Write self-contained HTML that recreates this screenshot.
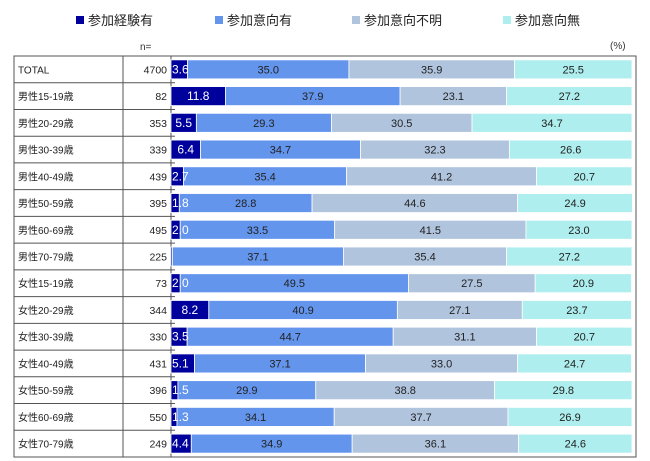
<!DOCTYPE html>
<html><head><meta charset="utf-8"><style>
body{margin:0;background:#fff;}
svg{display:block;font-family:"Liberation Sans","Noto Sans CJK JP",sans-serif;}
</style></head><body>
<svg id="c" width="650" height="461">
<g font-size="13" fill="#222">
<g><rect x="76" y="16" width="8" height="8" fill="#00009c"/><text x="88" y="25">参加経験有</text></g>
<g><rect x="215" y="16" width="8" height="8" fill="#6495ed"/><text x="227" y="25">参加意向有</text></g>
<g><rect x="352" y="16" width="8" height="8" fill="#b0c4de"/><text x="364" y="25">参加意向不明</text></g>
<g><rect x="503" y="16" width="8" height="8" fill="#afeeee"/><text x="515" y="25">参加意向無</text></g>
</g>
<text x="140" y="50" font-size="10" fill="#333">n=</text>
<text x="610" y="49" font-size="10" fill="#333">(%)</text>
<rect x="14" y="56" width="622" height="401" fill="none" stroke="#555" stroke-width="1"/>
<line x1="123" y1="56" x2="123" y2="457" stroke="#555"/>
<line x1="171" y1="56" x2="171" y2="457" stroke="#555"/>
<g id="rows"></g>
<g id="labels"></g>
</svg>
<script>
const categories=["TOTAL","男性15-19歳","男性20-29歳","男性30-39歳","男性40-49歳","男性50-59歳","男性60-69歳","男性70-79歳","女性15-19歳","女性20-29歳","女性30-39歳","女性40-49歳","女性50-59歳","女性60-69歳","女性70-79歳"];
const nValues=[4700,82,353,339,439,395,495,225,73,344,330,431,396,550,249];
const experienced=[3.6,11.8,5.5,6.4,2.7,1.8,2.0,0.3,2.0,8.2,3.5,5.1,1.5,1.3,4.4];
const intend=[35.0,37.9,29.3,34.7,35.4,28.8,33.5,37.1,49.5,40.9,44.7,37.1,29.9,34.1,34.9];
const unknown=[35.9,23.1,30.5,32.3,41.2,44.6,41.5,35.4,27.5,27.1,31.1,33.0,38.8,37.7,36.1];
const noIntent=[25.5,27.2,34.7,26.6,20.7,24.9,23.0,27.2,20.9,23.7,20.7,24.7,29.8,26.9,24.6];
const showLabel=[true,true,true,true,true,true,true,false,true,true,true,true,true,true,true];
const series=[{d:experienced,c:"#00009c",t:"#fff",n:"experienced"},{d:intend,c:"#6495ed",t:"#222",n:"intend"},{d:unknown,c:"#b0c4de",t:"#222",n:"unknown"},{d:noIntent,c:"#afeeee",t:"#222",n:"no-intent"}];
const X0=171,X1=632,topY=56,rowH=401/15,barH=19;
const xs=v=>X0+(X1-X0)*v/100;
const ys=i=>topY+rowH*i;
const NS="http://www.w3.org/2000/svg";
const g=document.getElementById("rows");
const gl=document.getElementById("labels");
function mk(tag,attrs){const e=document.createElementNS(NS,tag);for(const k in attrs)e.setAttribute(k,attrs[k]);return e;}
categories.forEach((cat,i)=>{
  const cy=ys(i)+rowH/2;
  if(i>0){const l=mk("line",{x1:14,x2:171,y1:ys(i),y2:ys(i),stroke:"#555"});
    
    g.appendChild(l);}
  const t=mk("text",{x:18,y:cy+4,"font-size":10,fill:"#222"});t.textContent=cat;
  
  g.appendChild(t);
  const n=mk("text",{x:167,y:cy+4,"font-size":10.5,fill:"#222","text-anchor":"end"});n.textContent=nValues[i];
  
  g.appendChild(n);
  let acc=0;
  series.forEach((s,si)=>{
    const v=s.d[i];const xa=xs(acc),xb=xs(acc+v);acc+=v;
    const r=mk("rect",{x:xa,y:cy-barH/2,width:Math.max(xb-xa,0),height:barH,fill:s.c,stroke:"#fff","stroke-width":0.8});
    
    g.appendChild(r);
    if(si>0||showLabel[i]){
      const wide=(xb-xa)>24;
      const first=si===0;
      const lt=mk("text",{x:(first&&!wide)?xa+1:(xa+xb)/2,y:cy+4,"font-size":first?12:11,fill:s.t,"text-anchor":(first&&!wide)?"start":"middle"});
      lt.textContent=v.toFixed(1);
      
      gl.appendChild(lt);
    }
  });
  const tk=mk("line",{x1:171,x2:175,y1:ys(i),y2:ys(i),stroke:"#555"});
  
  g.appendChild(tk);
});
</script>
</body></html>
